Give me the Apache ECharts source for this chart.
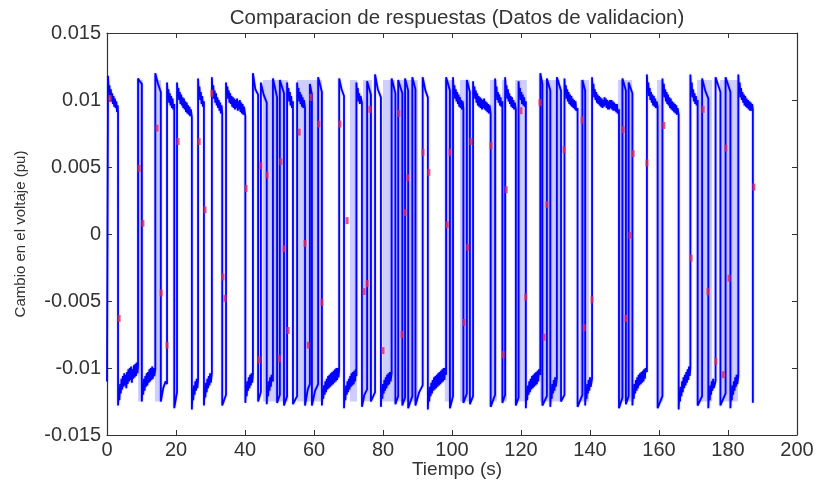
<!DOCTYPE html>
<html><head><meta charset="utf-8">
<script src="https://cdn.jsdelivr.net/npm/echarts@6/dist/echarts.min.js"></script>
<style>html,body{margin:0;padding:0;background:#fff}#c{width:817px;height:481px}</style>
</head><body><div id="c"></div>
<script>
const titulo = 'Comparacion de respuestas (Datos de validacion)';
const nombreX = 'Tiempo (s)';
const nombreY = 'Cambio en el voltaje (pu)';
const xTicks = [0, 20, 40, 60, 80, 100, 120, 140, 160, 180, 200];
const yTicks = [-0.015, -0.01, -0.005, 0, 0.005, 0.01, 0.015];

// Respuesta medida (azul) [tiempo s, cambio pu]
const respuestaReal = [
[0,-0.0110],[0.3,-0.0110],
[0.3,0.0118],[0.5,0.0106],[0.7,0.0111],[0.9,0.0102],[1.1,0.0108],[1.3,0.0099],[1.5,0.0105],[1.7,0.0097],[1.9,0.0103],[2.1,0.0095],[2.3,0.0101],[2.5,0.0094],[2.7,0.0099],[2.9,0.0091],[3.1,0.0096],[3.2,0.0090],
[3.2,-0.0128],[3.4,-0.0118],[3.6,-0.0124],[3.8,-0.0112],[4.0,-0.0119],[4.2,-0.0108],[4.4,-0.0116],[4.6,-0.0106],[4.8,-0.0114],[5.0,-0.0104],[5.2,-0.0113],[5.4,-0.0105],[5.6,-0.0115],[5.8,-0.0103],[6.0,-0.0112],[6.2,-0.0101],[6.4,-0.0110],[6.6,-0.0100],[6.8,-0.0109],[7.0,-0.0099],[7.2,-0.0111],[7.4,-0.0101],[7.6,-0.0108],[7.8,-0.0098],[8.0,-0.0107],[8.2,-0.0097],[8.4,-0.0106],[8.6,-0.0096],[8.8,-0.0104],[9.0,-0.0099],
[9.0,0.0116],[9.5,0.0114],[10.1,0.0112],
[10.1,-0.0125],[10.3,-0.0113],[10.5,-0.0120],[10.7,-0.0108],[10.9,-0.0117],[11.1,-0.0106],[11.3,-0.0114],[11.5,-0.0104],[11.7,-0.0113],[11.9,-0.0103],[12.1,-0.0111],[12.3,-0.0101],[12.5,-0.0110],[12.7,-0.0100],[12.9,-0.0109],[13.1,-0.0099],[13.3,-0.0108],[13.5,-0.0100],[13.7,-0.0106],[14.0,-0.0101],
[14.0,0.0120],[14.8,0.0112],[15.6,0.0106],
[15.6,-0.0125],[16.3,-0.0115],[17.0,-0.0110],[17.4,-0.0112],
[17.4,0.0113],[17.6,0.0102],[17.8,0.0108],[18.0,0.0098],[18.2,0.0105],[18.4,0.0096],[18.6,0.0103],[18.8,0.0094],[19.0,0.0101],[19.2,0.0093],[19.5,0.0097],
[19.5,-0.0130],[20.3,-0.0118],
[20.3,0.0113],[20.5,0.0103],[20.7,0.0109],[20.9,0.0100],[21.1,0.0106],[21.3,0.0097],[21.5,0.0104],[21.7,0.0096],[21.9,0.0102],[22.1,0.0094],[22.3,0.0101],[22.5,0.0093],[22.7,0.0099],[22.9,0.0091],[23.1,0.0098],[23.3,0.0090],[23.5,0.0096],[23.7,0.0089],[23.9,0.0095],[24.1,0.0088],[24.3,0.0093],[24.6,0.0087],
[24.6,-0.0131],[24.8,-0.0118],[25.0,-0.0124],[25.2,-0.0113],[25.4,-0.0120],[25.6,-0.0110],[25.8,-0.0117],[26.0,-0.0108],[26.2,-0.0115],[26.4,-0.0109],
[26.4,0.0116],[26.6,0.0104],[26.8,0.0110],[27.0,0.0100],[27.2,0.0106],[27.4,0.0097],[27.6,0.0103],[27.8,0.0095],[28.1,0.0099],
[28.1,-0.0128],[28.3,-0.0116],[28.5,-0.0122],[28.7,-0.0111],[28.9,-0.0118],[29.1,-0.0108],[29.3,-0.0115],[29.5,-0.0106],[29.7,-0.0113],[29.9,-0.0104],[30.1,-0.0111],[30.4,-0.0104],
[30.4,0.0117],[30.6,0.0105],[30.8,0.0111],[31.0,0.0101],[31.2,0.0107],[31.4,0.0098],[31.6,0.0105],[31.8,0.0096],[32.0,0.0102],[32.2,0.0094],[32.4,0.0100],[32.6,0.0092],[32.8,0.0098],[33.0,0.0090],[33.2,0.0096],[33.4,0.0090],
[33.4,-0.0128],[34.5,-0.0120],
[34.5,0.0113],[34.7,0.0104],[34.9,0.0110],[35.1,0.0101],[35.3,0.0107],[35.5,0.0098],[35.7,0.0105],[35.9,0.0097],[36.1,0.0103],[36.3,0.0095],[36.5,0.0102],[36.7,0.0094],[36.9,0.0101],[37.1,0.0093],[37.3,0.0100],[37.5,0.0094],[37.7,0.0101],[37.9,0.0092],[38.1,0.0099],[38.3,0.0093],[38.5,0.0100],[38.7,0.0091],[38.9,0.0098],[39.1,0.0090],[39.3,0.0097],[39.5,0.0089],[39.7,0.0095],[40.1,0.0088],
[40.1,-0.0126],[40.3,-0.0115],[40.5,-0.0121],[40.7,-0.0110],[40.9,-0.0117],[41.1,-0.0107],[41.3,-0.0115],[41.5,-0.0105],[41.7,-0.0113],[41.9,-0.0104],[42.1,-0.0111],[42.3,-0.0105],
[42.3,0.0120],[43.0,0.0108],[43.8,0.0104],
[43.8,-0.0125],[44.6,-0.0118],
[44.6,0.0113],[45.4,0.0104],[46.3,0.0098],
[46.3,-0.0127],[46.5,-0.0115],[46.7,-0.0121],[46.9,-0.0110],[47.1,-0.0117],[47.3,-0.0107],[47.5,-0.0114],[47.7,-0.0105],[48.1,-0.0110],
[48.1,0.0116],[49.3,0.0102],
[49.3,-0.0126],[50.1,-0.0120],
[50.1,0.0115],[51.3,0.0105],
[51.3,-0.0128],[52.2,-0.0121],
[52.2,0.0113],[52.4,0.0103],[52.6,0.0109],[52.8,0.0099],[53.0,0.0106],[53.2,0.0096],[53.4,0.0103],[53.6,0.0094],[53.9,0.0099],
[53.9,-0.0127],[55.1,-0.0121],
[55.1,0.0113],[55.3,0.0103],[55.5,0.0109],[55.7,0.0099],[55.9,0.0106],[56.1,0.0097],[56.3,0.0104],[56.5,0.0095],[56.7,0.0102],[56.9,0.0094],[57.1,0.0100],[57.4,0.0094],
[57.4,-0.0128],[58.2,-0.0116],[58.8,-0.0112],
[58.8,0.0112],[59.4,0.0104],
[59.4,-0.0128],[60.3,-0.0117],[61.2,-0.0112],
[61.2,0.0117],[62.3,0.0106],
[62.3,-0.0128],[62.5,-0.0117],[62.7,-0.0123],[62.9,-0.0113],[63.1,-0.0120],[63.3,-0.0110],[63.5,-0.0118],[63.7,-0.0108],[63.9,-0.0116],[64.1,-0.0106],[64.3,-0.0115],[64.5,-0.0105],[64.7,-0.0114],[64.9,-0.0104],[65.1,-0.0113],[65.3,-0.0103],[65.5,-0.0112],[65.7,-0.0102],[65.9,-0.0111],[66.1,-0.0101],[66.3,-0.0110],[66.5,-0.0100],[66.7,-0.0109],[66.9,-0.0100],[67.1,-0.0107],[67.3,-0.0101],
[67.3,0.0116],[68.0,0.0108],[68.7,0.0103],
[68.7,-0.0130],[68.9,-0.0118],[69.1,-0.0124],[69.3,-0.0113],[69.5,-0.0120],[69.7,-0.0110],[69.9,-0.0118],[70.1,-0.0108],[70.3,-0.0116],[70.5,-0.0106],[70.7,-0.0114],[70.9,-0.0104],[71.1,-0.0113],[71.3,-0.0103],[71.5,-0.0112],[71.7,-0.0102],[71.9,-0.0110],[72.1,-0.0101],[72.3,-0.0106],
[72.3,0.0113],[72.5,0.0103],[72.7,0.0109],[72.9,0.0099],[73.1,0.0105],[73.3,0.0097],[73.5,0.0103],[73.9,0.0098],
[73.9,-0.0129],[74.6,-0.0120],[75.4,-0.0116],
[75.4,0.0114],[76.5,0.0104],
[76.5,-0.0125],[77.7,-0.0118],
[77.7,0.0119],[78.5,0.0108],[79.4,0.0102],
[79.4,-0.0129],[79.6,-0.0117],[79.8,-0.0123],[80.0,-0.0112],[80.2,-0.0119],[80.4,-0.0109],[80.6,-0.0117],[80.8,-0.0107],[81.0,-0.0115],[81.2,-0.0105],[81.4,-0.0113],[81.6,-0.0104],[81.8,-0.0112],[82.0,-0.0103],[82.2,-0.0110],[82.5,-0.0104],
[82.5,0.0116],[83.6,0.0105],
[83.6,-0.0127],[84.4,-0.0121],
[84.4,0.0115],[85.6,0.0105],
[85.6,-0.0128],[86.4,-0.0122],
[86.4,0.0116],[87.3,0.0107],
[87.3,-0.0130],[88.5,-0.0121],
[88.5,0.0117],[89.4,0.0108],
[89.4,-0.0128],[90.5,-0.0118],[91.5,-0.0113],
[91.5,0.0117],[92.3,0.0107],[93.0,0.0102],
[93.0,-0.0131],[93.2,-0.0119],[93.4,-0.0125],[93.6,-0.0114],[93.8,-0.0121],[94.0,-0.0111],[94.2,-0.0119],[94.4,-0.0109],[94.6,-0.0117],[94.8,-0.0107],[95.0,-0.0116],[95.2,-0.0106],[95.4,-0.0115],[95.6,-0.0105],[95.8,-0.0114],[96.0,-0.0104],[96.2,-0.0113],[96.4,-0.0103],[96.6,-0.0112],[96.8,-0.0102],[97.0,-0.0111],[97.2,-0.0101],[97.4,-0.0110],[97.6,-0.0100],[97.8,-0.0109],[98.0,-0.0100],[98.3,-0.0105],
[98.3,0.0117],[99.4,0.0107],
[99.4,-0.0130],[100.3,-0.0121],
[100.3,0.0117],[100.5,0.0105],[100.7,0.0111],[100.9,0.0101],[101.1,0.0108],[101.3,0.0099],[101.5,0.0106],[101.7,0.0097],[101.9,0.0104],[102.1,0.0095],[102.3,0.0102],[102.5,0.0094],[102.7,0.0100],[102.9,0.0093],[103.1,0.0099],[103.3,0.0093],
[103.3,-0.0126],[104.3,-0.0119],
[104.3,0.0115],[105.2,0.0106],
[105.2,-0.0127],[106.1,-0.0121],
[106.1,0.0114],[106.3,0.0104],[106.5,0.0110],[106.7,0.0101],[106.9,0.0107],[107.1,0.0098],[107.3,0.0105],[107.5,0.0096],[107.7,0.0103],[107.9,0.0095],[108.1,0.0102],[108.3,0.0094],[108.5,0.0101],[108.7,0.0093],[108.9,0.0100],[109.1,0.0094],[109.3,0.0101],[109.5,0.0093],[109.7,0.0099],[109.9,0.0092],[110.1,0.0098],[110.3,0.0091],[110.5,0.0097],[110.7,0.0090],[110.9,0.0096],[111.2,0.0090],
[111.2,-0.0129],[112.5,-0.0120],
[112.5,0.0116],[112.7,0.0104],[112.9,0.0110],[113.1,0.0100],[113.3,0.0106],[113.5,0.0098],[113.7,0.0104],[113.9,0.0096],[114.1,0.0102],[114.3,0.0095],[114.6,0.0099],
[114.6,-0.0126],[115.4,-0.0120],
[115.4,0.0117],[115.6,0.0105],[115.8,0.0111],[116.0,0.0101],[116.2,0.0108],[116.4,0.0099],[116.6,0.0105],[116.8,0.0097],[117.0,0.0103],[117.2,0.0095],[117.4,0.0102],[117.6,0.0094],[117.8,0.0100],[118.0,0.0093],[118.2,0.0098],[118.5,0.0093],
[118.5,-0.0128],[119.3,-0.0122],
[119.3,0.0114],[119.5,0.0103],[119.7,0.0109],[119.9,0.0100],[120.1,0.0106],[120.3,0.0097],[120.5,0.0104],[120.7,0.0096],[120.9,0.0102],[121.1,0.0095],[121.4,0.0099],
[121.4,-0.0130],[121.6,-0.0118],[121.8,-0.0124],[122.0,-0.0113],[122.2,-0.0120],[122.4,-0.0110],[122.6,-0.0118],[122.8,-0.0108],[123.0,-0.0116],[123.2,-0.0106],[123.4,-0.0115],[123.6,-0.0105],[123.8,-0.0114],[124.0,-0.0104],[124.2,-0.0113],[124.4,-0.0103],[124.6,-0.0112],[124.8,-0.0102],[125.0,-0.0110],[125.2,-0.0101],[125.6,-0.0105],
[125.6,0.0120],[126.2,0.0112],
[126.2,-0.0128],[127.5,-0.0121],
[127.5,0.0116],[128.5,0.0107],
[128.5,-0.0129],[128.7,-0.0117],[128.9,-0.0123],[129.1,-0.0112],[129.3,-0.0119],[129.5,-0.0109],[129.7,-0.0117],[129.9,-0.0107],[130.1,-0.0114],[130.4,-0.0108],
[130.4,0.0117],[131.6,0.0107],
[131.6,-0.0125],[132.6,-0.0120],
[132.6,0.0116],[132.8,0.0105],[133.0,0.0111],[133.2,0.0101],[133.4,0.0108],[133.6,0.0099],[133.8,0.0106],[134.0,0.0097],[134.2,0.0104],[134.4,0.0096],[134.6,0.0103],[134.8,0.0095],[135.0,0.0101],[135.2,0.0094],[135.4,0.0100],[135.6,0.0093],[135.8,0.0099],[136.0,0.0092],[136.4,0.0094],
[136.4,-0.0129],[137.8,-0.0120],
[137.8,0.0115],[138.6,0.0107],
[138.6,-0.0128],[138.8,-0.0117],[139.0,-0.0123],[139.2,-0.0112],[139.4,-0.0119],[139.6,-0.0109],[139.8,-0.0117],[140.0,-0.0107],[140.2,-0.0114],[140.6,-0.0108],
[140.6,0.0117],[140.8,0.0106],[141.0,0.0112],[141.2,0.0102],[141.4,0.0108],[141.6,0.0100],[141.8,0.0106],[142.0,0.0098],[142.2,0.0104],[142.4,0.0097],[142.6,0.0103],[142.8,0.0096],[143.0,0.0102],[143.2,0.0095],[143.4,0.0101],[143.6,0.0094],[143.8,0.0100],[144.0,0.0095],[144.2,0.0102],[144.4,0.0096],[144.6,0.0101],[144.8,0.0094],[145.0,0.0100],[145.2,0.0093],[145.4,0.0099],[145.6,0.0093],[145.8,0.0100],[146.0,0.0094],[146.2,0.0100],[146.4,0.0093],[146.6,0.0099],[146.8,0.0092],[147.0,0.0098],[147.2,0.0092],[147.4,0.0097],[147.6,0.0091],[147.8,0.0097],[148.0,0.0090],[148.4,0.0093],
[148.4,-0.0130],[149.4,-0.0122],
[149.4,0.0116],[150.4,0.0107],
[150.4,-0.0127],[151.2,-0.0121],
[151.2,0.0113],[152.3,0.0105],
[152.3,-0.0128],[152.5,-0.0117],[152.7,-0.0123],[152.9,-0.0112],[153.1,-0.0119],[153.3,-0.0109],[153.5,-0.0117],[153.7,-0.0107],[153.9,-0.0115],[154.1,-0.0105],[154.3,-0.0113],[154.5,-0.0104],[154.7,-0.0112],[154.9,-0.0103],[155.1,-0.0111],[155.3,-0.0102],[155.5,-0.0110],[155.7,-0.0101],[155.9,-0.0108],[156.1,-0.0100],[156.5,-0.0103],
[156.5,0.0119],[156.7,0.0107],[156.9,0.0113],[157.1,0.0103],[157.3,0.0109],[157.5,0.0100],[157.7,0.0106],[157.9,0.0098],[158.1,0.0104],[158.3,0.0096],[158.5,0.0103],[158.7,0.0095],[158.9,0.0101],[159.1,0.0094],[159.3,0.0099],[159.6,0.0095],
[159.6,-0.0130],[161.0,-0.0121],
[161.0,0.0116],[161.2,0.0106],[161.4,0.0112],[161.6,0.0102],[161.8,0.0108],[162.0,0.0099],[162.2,0.0106],[162.4,0.0097],[162.6,0.0104],[162.8,0.0096],[163.0,0.0102],[163.2,0.0094],[163.4,0.0101],[163.6,0.0093],[163.8,0.0099],[164.0,0.0092],[164.2,0.0098],[164.4,0.0091],[164.6,0.0097],[164.8,0.0090],[165.0,0.0096],[165.2,0.0089],[165.4,0.0094],[165.7,0.0089],
[165.7,-0.0131],[165.9,-0.0119],[166.1,-0.0125],[166.3,-0.0114],[166.5,-0.0121],[166.7,-0.0110],[166.9,-0.0118],[167.1,-0.0107],[167.3,-0.0115],[167.5,-0.0105],[167.7,-0.0113],[167.9,-0.0103],[168.1,-0.0111],[168.3,-0.0101],[168.5,-0.0109],[168.7,-0.0099],[168.9,-0.0106],[169.1,-0.0100],
[169.1,0.0119],[169.3,0.0107],[169.5,0.0113],[169.7,0.0102],[169.9,0.0108],[170.1,0.0099],[170.3,0.0105],[170.5,0.0097],[170.7,0.0103],[170.9,0.0096],[171.2,0.0100],
[171.2,-0.0128],[172.5,-0.0121],
[172.5,0.0116],[173.4,0.0107],[174.3,0.0101],
[174.3,-0.0130],[174.5,-0.0118],[174.7,-0.0124],[174.9,-0.0113],[175.1,-0.0120],[175.3,-0.0110],[175.5,-0.0117],[175.7,-0.0108],[175.9,-0.0115],[176.4,-0.0110],
[176.4,0.0117],[177.8,0.0106],
[177.8,-0.0128],[179.3,-0.0119],
[179.3,0.0117],[180.7,0.0106],
[180.7,-0.0130],[180.9,-0.0118],[181.1,-0.0124],[181.3,-0.0113],[181.5,-0.0120],[181.7,-0.0110],[181.9,-0.0117],[182.1,-0.0107],[182.3,-0.0114],[182.5,-0.0105],[182.7,-0.0112],[183.0,-0.0106],
[183.0,0.0119],[183.2,0.0107],[183.4,0.0113],[183.6,0.0102],[183.8,0.0109],[184.0,0.0100],[184.2,0.0106],[184.4,0.0098],[184.6,0.0104],[184.8,0.0096],[185.0,0.0103],[185.2,0.0095],[185.4,0.0101],[185.6,0.0094],[185.8,0.0100],[186.0,0.0093],[186.2,0.0099],[186.4,0.0092],[186.6,0.0098],[186.8,0.0092],[187.0,0.0097],[187.2,0.0093],
[187.2,-0.0126]
];

// Respuesta del modelo (rojo) visible en las transiciones [tiempo s, cambio pu]
const respuestaModelo = [
[0.9,0.0101],[3.5,-0.0063],[9.3,0.0049],[10.4,0.0008],[14.5,0.0079],[15.7,-0.0044],[17.4,-0.0083],
[20.6,0.0069],[26.7,0.0069],[28.4,0.0018],[30.4,0.0105],[33.6,-0.0032],[34.2,-0.0048],[40.3,0.0034],
[44.1,-0.0094],[44.6,0.0051],[46.4,0.0044],[49.9,-0.0093],[50.4,0.0054],[51.3,-0.0011],[52.5,-0.0072],
[55.7,0.0076],[57.4,-0.0007],[58.3,-0.0083],[59.1,0.0102],[61.4,0.0082],[62.3,-0.0051],[67.5,0.0082],
[69.6,0.0010],[74.5,-0.0043],[75.4,-0.0037],[76.2,0.0093],[80.0,-0.0087],[84.6,0.0090],[85.5,-0.0075],
[86.4,0.0016],[87.2,0.0042],[91.6,0.0061],[93.3,0.0046],[98.6,0.0007],[99.4,0.0061],[103.5,-0.0066],
[104.6,-0.0010],[105.5,0.0069],[111.3,0.0066],[114.8,-0.0090],[115.7,0.0033],[120.0,0.0092],[121.4,-0.0047],
[125.5,0.0098],[126.7,-0.0077],[127.5,0.0022],[132.5,0.0063],[137.7,0.0085],[138.3,-0.0070],[140.6,-0.0049],
[149.6,0.0078],[150.4,-0.0063],[151.6,-0.0001],[152.5,0.0060],[156.5,0.0053],[161.4,0.0081],[169.3,-0.0018],
[172.8,0.0093],[174.2,-0.0043],[176.5,-0.0095],[178.6,-0.0105],[179.4,0.0064],[180.3,-0.0033],[187.5,0.0035]
];

// Tramos de conmutación muy rápida (se ven como bandas claras) [t inicio, t fin]
const zonasDensas = [
[9.0,10.4],[13.9,15.7],[45.2,47.8],[47.8,52.5],[55.1,62.3],[70.4,72.5],[74.2,76.8],[80.0,83.5],
[84.4,90.1],[97.9,100.3],[102.3,105.2],[111.0,113.0],[114.5,115.9],[118.3,121.7],[125.5,131.3],
[137.1,139.7],[148.1,152.2],[159.4,161.2],[171.0,175.4],[177.7,182.9]
];
const bandaMin = -0.0125, bandaMax = 0.0115;

const fmtY = v => { const r = Math.round(v * 1000) / 1000; return r === 0 ? '0' : String(r); };
const fuente = '"Liberation Sans", Arial, sans-serif';
const ejeComun = () => ({
  axisLine: { show: true, onZero: false, lineStyle: { color: '#333', width: 1.2 } },
  axisTick: { show: true, inside: true, length: 5, lineStyle: { color: '#333' } },
  splitLine: { show: false }
});

const chart = echarts.init(document.getElementById('c'), null, { renderer: 'canvas' });
chart.setOption({
  animation: false,
  backgroundColor: '#fff',
  title: [
    {
      text: titulo, left: 452, top: 3, textAlign: 'center',
      textStyle: { fontFamily: fuente, fontSize: 20.5, fontWeight: 'normal', color: '#333' }
    },
    {
      text: nombreX, left: 452, top: 455, textAlign: 'center',
      textStyle: { fontFamily: fuente, fontSize: 19, fontWeight: 'normal', color: '#333' }
    }
  ],
  grid: { left: 107, right: 20, top: 33, bottom: 46, containLabel: false, outerBoundsMode: 'none' },
  xAxis: [
    Object.assign(ejeComun(), {
      type: 'value', min: xTicks[0], max: xTicks[xTicks.length - 1], interval: 20, position: 'bottom',
      axisLabel: { fontFamily: fuente, fontSize: 20, color: '#333', margin: 5 }
    }),
    Object.assign(ejeComun(), {
      type: 'value', min: xTicks[0], max: xTicks[xTicks.length - 1], interval: 20, position: 'top',
      axisLabel: { show: false }
    })
  ],
  yAxis: [
    Object.assign(ejeComun(), {
      type: 'value', min: yTicks[0], max: yTicks[yTicks.length - 1], interval: 0.005, position: 'left',
      name: nombreY, nameLocation: 'middle', nameGap: 79, nameRotate: 90,
      nameTextStyle: { fontFamily: fuente, fontSize: 15, color: '#333' },
      axisLabel: { fontFamily: fuente, fontSize: 20, color: '#333', margin: 6, formatter: fmtY }
    }),
    Object.assign(ejeComun(), {
      type: 'value', min: yTicks[0], max: yTicks[yTicks.length - 1], interval: 0.005, position: 'right',
      axisLabel: { show: false }
    })
  ],
  series: [
    {
      type: 'line', name: 'Real', xAxisIndex: 0, yAxisIndex: 0,
      data: respuestaReal, showSymbol: false, symbol: 'none', sampling: null,
      lineStyle: { color: '#0000ff', width: 1.8, shadowColor: 'rgba(0,0,255,0.4)', shadowBlur: 2 },
      markArea: {
        silent: true,
        itemStyle: { color: 'rgba(140,140,255,0.42)' },
        data: zonasDensas.map(z => [{ xAxis: z[0], yAxis: bandaMin }, { xAxis: z[1], yAxis: bandaMax }])
      },
      z: 2
    },
    {
      type: 'scatter', name: 'Modelo', xAxisIndex: 0, yAxisIndex: 0,
      data: respuestaModelo, symbol: 'rect', symbolSize: [3, 7],
      itemStyle: { color: 'rgb(230,40,80)' }, z: 3
    }
  ]
});
</script>
</body></html>
